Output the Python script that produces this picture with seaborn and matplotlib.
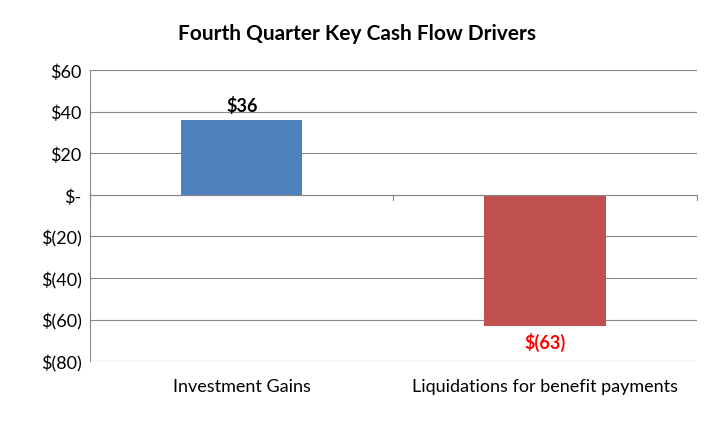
import matplotlib
matplotlib.use("Agg")
import matplotlib.pyplot as plt
import seaborn as sns
import pandas as pd

categories = ["Investment Gains", "Liquidations for benefit payments"]
values = [36, -63]
labels = ["$36", "$(63)"]
label_colors = ["black", "#FF0000"]
bar_colors = ["#4F81BD", "#C0504D"]
yticks = [60, 40, 20, 0, -20, -40, -60, -80]
yticklabels = ["$60", "$40", "$20", "$-", "$(20)", "$(40)", "$(60)", "$(80)"]

plt.rcParams["font.family"] = "Lato"
fig = plt.figure(figsize=(7.14, 4.39), dpi=100)
ax = fig.add_axes([0.126, 0.175, 0.85, 0.663])
df = pd.DataFrame({"cat": categories, "val": values})
sns.barplot(data=df, x="cat", y="val", hue="cat", palette=bar_colors, width=0.4,
            legend=False, ax=ax, saturation=1)
ax.set_ylim(-80, 60)
ax.set_xlim(-0.5, 1.5)
ax.set_yticks(yticks)
ax.set_yticklabels(yticklabels, fontsize=13)
ax.tick_params(axis="x", labelsize=13, length=0, pad=12)
ax.tick_params(axis="y", length=0, pad=6)
ax.set_xlabel(""); ax.set_ylabel("")
ax.grid(axis="y", color="#888888", linewidth=0.8)
ax.set_axisbelow(True)
for s in ["top", "right", "bottom"]:
    ax.spines[s].set_visible(False)
ax.spines["left"].set_color("#888888")
ax.axhline(0, color="#888888", linewidth=0.8)
for x in [-0.5, 0.5, 1.5]:
    ax.plot([x, x], [0, -2.5], color="#888888", linewidth=0.8, clip_on=False)
for i, (v, l, c) in enumerate(zip(values, labels, label_colors)):
    off = 3 if v > 0 else -3
    ax.text(i, v + off, l, ha="center", va="bottom" if v > 0 else "top",
            fontsize=13, fontweight="bold", color=c)
fig.suptitle("Fourth Quarter Key Cash Flow Drivers", y=0.945, fontsize=15, fontweight="bold")
fig.savefig("out.png", dpi=100)
